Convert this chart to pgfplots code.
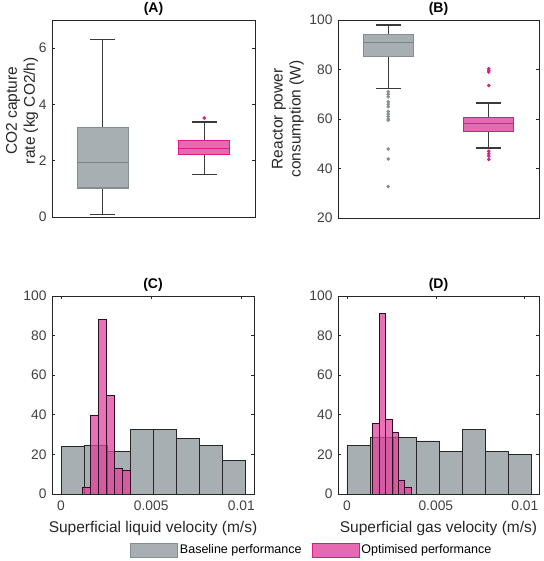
\documentclass[border=0pt]{standalone}
\usepackage{fontspec}
\setmainfont{Liberation Sans}
\usepackage{pgfplots}
\pgfplotsset{compat=1.18}
\usepgfplotslibrary{statistics}

\definecolor{axc}{HTML}{262626}
\definecolor{tickc}{HTML}{404040}
\definecolor{grayfill}{HTML}{A8AFB2}
\definecolor{grayedge}{HTML}{858D91}
\definecolor{graymed}{HTML}{7A8387}
\definecolor{pinkfill}{HTML}{E56BB1}
\definecolor{pinkedge}{HTML}{E0178D}
\definecolor{pinkhist}{HTML}{E0439F}
\definecolor{whisk}{HTML}{3A3A3A}

\pgfplotsset{
  panel/.style={
    scale only axis,
    axis line style={axc, line width=0.8pt},
    tick style={axc, line width=0.6pt},
    major tick length=3pt,
    tick align=inside,
    ticklabel style={font=\fontsize{13.8}{16}\selectfont, text=tickc},
    xticklabel style={yshift=-3pt},
    yticklabel style={xshift=-2pt},
    label style={font=\fontsize{15.5}{18}\selectfont, text=axc},
    title style={font=\bfseries\fontsize{14}{16}\selectfont, text=black, yshift=-5pt},
    /pgf/number format/assume math mode=true,
  },
  boxpanel/.style={
    panel, xmin=0.5, xmax=2.5, xtick=\empty,
    boxplot/draw direction=y,
  },
  boxplot/graybox/.style={
    /pgfplots/boxplot/box extend=0.5,
    /pgfplots/boxplot/whisker extend=0.25,
    /pgfplots/boxplot/every whisker/.style={draw=whisk, line width=1.4pt},
    /pgfplots/boxplot/every box/.style={draw=grayedge, fill=grayfill, line width=1.2pt},
    /pgfplots/boxplot/every median/.style={draw=graymed, line width=1.4pt},
  },
  boxplot/pinkbox/.style={
    /pgfplots/boxplot/box extend=0.5,
    /pgfplots/boxplot/whisker extend=0.25,
    /pgfplots/boxplot/every whisker/.style={draw=whisk, line width=1.4pt},
    /pgfplots/boxplot/every box/.style={draw=pinkedge, fill=pinkfill, line width=1.2pt},
    /pgfplots/boxplot/every median/.style={draw=pinkedge, line width=1.4pt},
  },
  histpanel/.style={
    panel, ymin=0, ymax=100, ytick={0,20,40,60,80,100},
    xtick={0,0.005,0.01}, xticklabels={0,0.005,0.01}, scaled x ticks=false,
    xlabel style={at={(axis description cs:0.5,-0.172)}, anchor=center},
  },
}

\begin{document}
\begin{tikzpicture}
\useasboundingbox (0,0) rectangle (543pt,561pt);

% ---------------- (A) ----------------
\begin{axis}[boxpanel, at={(52pt,344pt)}, anchor=south west,
  width=203pt, height=197pt, ymin=0, ymax=7, ytick={0,2,4,6},
  title={(A)},
  ylabel={CO2 capture\\rate (kg CO2/h)},
  ylabel style={at={(axis description cs:-0.148,0.54)}, anchor=center, align=center},
]
\addplot[boxplot prepared={graybox, draw position=1, lower whisker=0.08, lower quartile=1.03,
    median=1.94, upper quartile=3.18, upper whisker=6.3},
  mark=*, mark size=1.6pt, mark options={draw=grayedge, fill=grayedge}]
  coordinates {};
\addplot[boxplot prepared={pinkbox, draw position=2, lower whisker=1.52, lower quartile=2.21,
    median=2.43, upper quartile=2.71, upper whisker=3.37},
  mark=*, mark size=1.6pt, mark options={draw=pinkedge, fill=pinkedge}]
  coordinates {(2,3.52)};
\end{axis}

% ---------------- (B) ----------------
\begin{axis}[boxpanel, at={(338pt,343pt)}, anchor=south west,
  width=201pt, height=198pt, ymin=20, ymax=100, ytick={20,40,60,80,100},
  title={(B)},
  ylabel={Reactor power\\consumption (W)},
  ylabel style={at={(axis description cs:-0.249,0.5)}, anchor=center, align=center},
]
\addplot[boxplot prepared={graybox, draw position=1, lower whisker=72.2, lower quartile=85.2,
    median=90.8, upper quartile=94.2, upper whisker=98},
  mark=*, mark size=1.6pt, mark options={draw=grayedge, fill=grayedge}]
  coordinates {(1,71) (1,70) (1,69) (1,67) (1,66) (1,65) (1,63) (1,62) (1,61)
               (1,60) (1,59.5) (1,47.9) (1,43.8) (1,32.7)};
\addplot[boxplot prepared={pinkbox, draw position=2, lower whisker=48.3, lower quartile=55.1,
    median=58.2, upper quartile=60.5, upper whisker=66.5},
  mark=*, mark size=1.6pt, mark options={draw=pinkedge, fill=pinkedge}]
  coordinates {(2,80.3) (2,79.6) (2,79) (2,73.5) (2,47) (2,46) (2,45) (2,43.6)};
\end{axis}

% ---------------- (C) ----------------
\begin{axis}[histpanel, at={(52pt,67pt)}, anchor=south west,
  width=202pt, height=198pt, xmin=-0.0005, xmax=0.0107,
  title={(C)},
  xlabel={Superficial liquid velocity (m/s)},
  legend style={at={(axis description cs:0.386,-0.283)}, anchor=west,
    draw=none, fill=none, legend columns=2, inner sep=0pt,
    font=\fontsize{12.5}{14}\selectfont,
    /tikz/every even column/.append style={column sep=8pt}},
]
\addplot[ybar interval, fill=grayfill, draw=black!85, line width=0.8pt, forget plot]
  coordinates {(0,24) (0.00128,24.5) (0.00256,21.5) (0.00384,32.7) (0.00512,32.7)
               (0.0064,28) (0.00768,24.5) (0.00896,17) (0.01024,0)};
\addplot[ybar interval, fill=pinkhist, fill opacity=0.75, draw=black!80!pinkhist,
  line width=0.8pt, forget plot]
  coordinates {(0.0012,3.4) (0.00164,39.6) (0.00208,88) (0.00252,49.7)
               (0.00296,12.8) (0.0034,11.7) (0.00384,0)};
\addlegendimage{legend image code/.code={\draw[fill=grayfill, draw=grayedge, line width=0.8pt] (0pt,-7pt) rectangle (47pt,7pt);}}
\addlegendentry{Baseline performance}
\addlegendimage{legend image code/.code={\draw[fill=pinkfill, draw=pinkedge, line width=0.8pt] (0pt,-7pt) rectangle (47pt,7pt);}}
\addlegendentry{Optimised performance}
\end{axis}

% ---------------- (D) ----------------
\begin{axis}[histpanel, at={(338pt,67pt)}, anchor=south west,
  width=201pt, height=198pt, xmin=-0.0005, xmax=0.0108,
  title={(D)},
  xlabel={Superficial gas velocity (m/s)},
]
\addplot[ybar interval, fill=grayfill, draw=black!85, line width=0.8pt]
  coordinates {(0,24.5) (0.0013,28.7) (0.0026,28.7) (0.0039,26.8) (0.0052,21.5)
               (0.0065,32.7) (0.0078,21.5) (0.0091,19.8) (0.0104,0)};
\addplot[ybar interval, fill=pinkhist, fill opacity=0.75, draw=black!80!pinkhist,
  line width=0.8pt]
  coordinates {(0.00146,35.7) (0.00182,91.1) (0.00218,37.9) (0.00254,31)
               (0.0029,7) (0.00326,3.5) (0.00362,0)};
\end{axis}
\end{tikzpicture}
\end{document}
